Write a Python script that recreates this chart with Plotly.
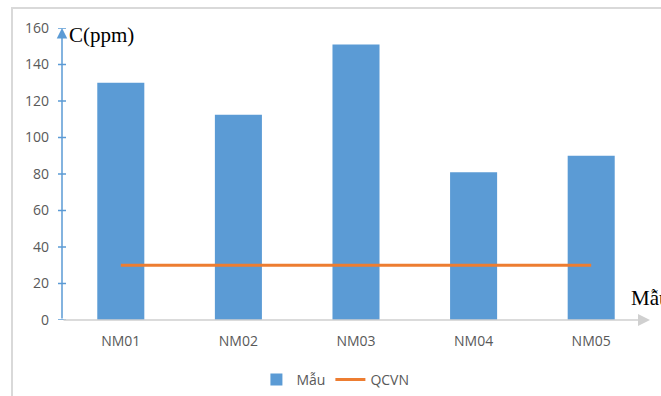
import plotly.graph_objects as go

categories = ["NM01", "NM02", "NM03", "NM04", "NM05"]
mau_values = [130, 112.5, 151, 81, 90]
qcvn_values = [30, 30, 30, 30, 30]
y_ticks = [0, 20, 40, 60, 80, 100, 120, 140, 160]

W, H = 661, 396
L, R, T, B = 62, 11, 28, 76
pw = W - L - R
ph = H - T - B

fig = go.Figure()
fig.add_trace(go.Bar(x=categories, y=mau_values, name="Mẫu",
                     marker=dict(color="#5b9bd5", line=dict(width=0)), width=0.4))
fig.add_trace(go.Scatter(x=categories, y=qcvn_values, name="QCVN", mode="lines",
                         line=dict(color="#ed7d31", width=3)))

# border (top + left visible)
fig.add_shape(type="rect", xref="paper", yref="paper",
              x0=(12 - L) / pw, x1=1.5, y0=-1, y1=(H - B - 8) / ph,
              line=dict(color="#d9d9d9", width=2), layer="below")

# y tick marks crossing the axis
for t in y_ticks:
    fig.add_shape(type="line", xref="paper", yref="y",
                  x0=-4 / pw, x1=4 / pw, y0=t, y1=t,
                  line=dict(color="#5b9bd5", width=1.5))

# x axis arrow
fig.add_annotation(xref="x domain", yref="y", axref="x domain", ayref="y",
                   x=(650 - L) / pw, y=0, ax=0, ay=0, text="", showarrow=True,
                   arrowhead=2, arrowsize=1.6, arrowwidth=1.5, arrowcolor="#d0d0d0")
# y axis arrow
fig.add_annotation(xref="x domain", yref="y", axref="x domain", ayref="y",
                   x=0, y=160, ax=0, ay=0, text="", showarrow=True,
                   arrowhead=2, arrowsize=1.4, arrowwidth=1.5, arrowcolor="#5b9bd5")

fig.add_annotation(xref="paper", yref="y", x=5 / pw, y=160, xanchor="left", yanchor="middle",
                   yshift=-7, text="C(ppm)", showarrow=False,
                   font=dict(family="Liberation Serif", size=21, color="#000000"))
fig.add_annotation(xref="paper", yref="y", x=(629 - L) / pw, y=0, xanchor="left", yanchor="middle",
                   yshift=22, text="Mẫu", showarrow=False,
                   font=dict(family="Liberation Serif", size=21, color="#000000"))

fig.update_layout(
    width=W, height=H,
    margin=dict(l=L, r=R, t=T, b=B, pad=0, autoexpand=False),
    plot_bgcolor="white", paper_bgcolor="white",
    font=dict(family="Open Sans", size=14, color="#595959"),
    showlegend=True,
    legend=dict(orientation="h", x=0.465, xanchor="center", y=-0.15, yanchor="top",
                font=dict(size=14, color="#595959"), itemwidth=30),
    xaxis=dict(type="category", range=[-0.5, 4.5], showgrid=False, showline=False,
               zeroline=False, ticks="", ticklabelstandoff=11),
    yaxis=dict(range=[0, 160], tickvals=y_ticks, showgrid=False, showline=False,
               zeroline=False, ticks="", ticklabelstandoff=12),
)

fig.write_html("out.html")
